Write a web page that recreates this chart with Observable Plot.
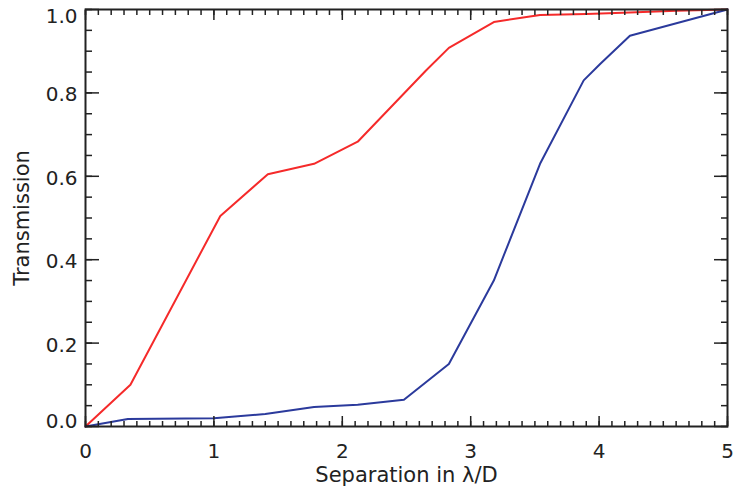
<!DOCTYPE html>
<html>
<head>
<meta charset="utf-8">
<script src="https://cdn.jsdelivr.net/npm/d3@7"></script>
<script src="https://cdn.jsdelivr.net/npm/@observablehq/plot@0.6"></script>
<style>
  html, body { margin: 0; padding: 0; background: #fff; }
</style>
</head>
<body>
<div id="chart"></div>
<script>
// Series values
const redX  = [0, 0.35, 1.05, 1.42, 1.78, 2.12, 2.65, 2.83, 3.18, 3.54, 3.90, 4.24, 4.60, 5.0];
const redY  = [0, 0.10, 0.505, 0.605, 0.63, 0.683, 0.853, 0.908, 0.97, 0.987, 0.989, 0.993, 0.997, 1.0];
const blueX = [0, 0.33, 1.00, 1.40, 1.78, 2.12, 2.48, 2.83, 3.18, 3.54, 3.88, 4.01, 4.24, 5.0];
const blueY = [0, 0.018, 0.02, 0.03, 0.047, 0.052, 0.064, 0.15, 0.35, 0.63, 0.83, 0.87, 0.937, 1.0];

// Tick values and labels
const xMajor = [0, 1, 2, 3, 4, 5];
const xLabels = ["0", "1", "2", "3", "4", "5"];
const yMajor = [0, 0.2, 0.4, 0.6, 0.8, 1.0];
const yLabels = ["0.0", "0.2", "0.4", "0.6", "0.8", "1.0"];
const xMinor = d3.range(0, 51).map(i => i / 10);
const yMinor = d3.range(0, 21).map(i => i / 20);

const xTitle = "Separation in λ/D";
const yTitle = "Transmission";

const red = redX.map((x, i) => ({x, y: redY[i]}));
const blue = blueX.map((x, i) => ({x, y: blueY[i]}));

const ink = "#222";
const none = () => "";
const xl = d => xLabels[xMajor.indexOf(d)];
const yl = d => yLabels[yMajor.findIndex(v => Math.abs(v - d) < 1e-9)];

const chart = Plot.plot({
  width: 735,
  height: 496,
  marginLeft: 85,
  marginRight: 8,
  marginTop: 9,
  marginBottom: 70,
  x: {domain: [0, 5], label: null},
  y: {domain: [0, 1], label: null},
  style: {fontFamily: "DejaVu Sans", fontSize: "20px", color: ink, background: "#fff"},
  marks: [
    Plot.line(red, {x: "x", y: "y", stroke: "#f52a2a", strokeWidth: 2}),
    Plot.line(blue, {x: "x", y: "y", stroke: "#2b3a9c", strokeWidth: 2}),
    Plot.frame({stroke: ink, strokeWidth: 2}),
    // minor ticks (inward)
    Plot.axisX({anchor: "bottom", ticks: xMinor, tickSize: -5, tickFormat: none, label: null, stroke: ink, strokeWidth: 1.5}),
    Plot.axisX({anchor: "top", ticks: xMinor, tickSize: -5, tickFormat: none, label: null, stroke: ink, strokeWidth: 1.5}),
    Plot.axisY({anchor: "left", ticks: yMinor, tickSize: -7, tickFormat: none, label: null, stroke: ink, strokeWidth: 1.5}),
    Plot.axisY({anchor: "right", ticks: yMinor, tickSize: -7, tickFormat: none, label: null, stroke: ink, strokeWidth: 1.5}),
    // major ticks (inward)
    Plot.axisX({anchor: "bottom", ticks: xMajor, tickSize: -10, tickFormat: none, label: null, stroke: ink, strokeWidth: 1.5}),
    Plot.axisX({anchor: "top", ticks: xMajor, tickSize: -10, tickFormat: none, label: null, stroke: ink, strokeWidth: 1.5}),
    Plot.axisY({anchor: "left", ticks: yMajor, tickSize: -14, tickFormat: none, label: null, stroke: ink, strokeWidth: 1.5}),
    Plot.axisY({anchor: "right", ticks: yMajor, tickSize: -14, tickFormat: none, label: null, stroke: ink, strokeWidth: 1.5}),
    // tick labels
    Plot.axisX({anchor: "bottom", ticks: xMajor, tickSize: 0, tickPadding: 17, tickFormat: xl, label: null, fill: ink, fontSize: 20}),
    Plot.axisY({anchor: "left", ticks: yMajor.slice(1, 5), tickSize: 0, tickPadding: 8, tickFormat: yl, label: null, fill: ink, fontSize: 20, dy: 2}),
    Plot.axisY({anchor: "left", ticks: [yMajor[0]], tickSize: 0, tickPadding: 8, tickFormat: yl, label: null, fill: ink, fontSize: 20, dy: -5}),
    Plot.axisY({anchor: "left", ticks: [yMajor[5]], tickSize: 0, tickPadding: 8, tickFormat: yl, label: null, fill: ink, fontSize: 20, dy: 7}),
    // axis titles
    Plot.text([xTitle], {text: d => d, frameAnchor: "bottom", textAnchor: "middle", dy: 49, lineAnchor: "middle", fill: ink, fontSize: 21}),
    Plot.text([yTitle], {text: d => d, frameAnchor: "left", textAnchor: "middle", dx: -63, rotate: -90, lineAnchor: "middle", fill: ink, fontSize: 21})
  ]
});
document.getElementById("chart").appendChild(chart);
</script>
</body>
</html>
